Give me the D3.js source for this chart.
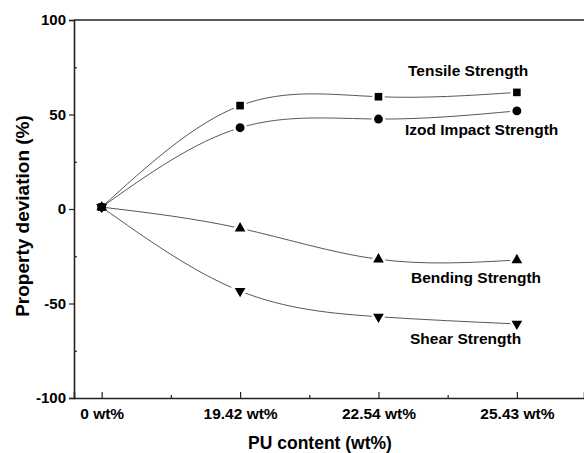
<!DOCTYPE html>
<html>
<head>
<meta charset="utf-8">
<script src="https://cdn.jsdelivr.net/npm/d3@7"></script>
<style>
  body { margin: 0; background: #fff; }
  svg text { font-family: Arial, "Liberation Sans", sans-serif; font-weight: bold; fill: #000; }
  .axis path, .axis line { stroke: #222; }
</style>
</head>
<body>
<div id="chart"></div>
<script>
(function () {
  "use strict";

  // PU content categories
  const categories = ["0 wt%", "19.42 wt%", "22.54 wt%", "25.43 wt%"];

  // property deviation (%) for each series
  const tensile = [1, 54.7, 59.4, 61.7];
  const izod = [1, 43, 47.6, 51.9];
  const bending = [1, -10.2, -26.6, -27];
  const shear = [1, -43.4, -57, -60.8];

  const yTicks = [-100, -50, 0, 50, 100];
  const yMinorTicks = [-75, -25, 25, 75];

  const series = [
    { name: "Tensile Strength", values: tensile, symbol: d3.symbolSquare, size: 58, rotate: 0, label: [408, 76] },
    { name: "Izod Impact Strength", values: izod, symbol: d3.symbolCircle, size: 62, rotate: 0, label: [405, 135] },
    { name: "Bending Strength", values: bending, symbol: d3.symbolTriangle, size: 50, rotate: 0, label: [411, 283] },
    { name: "Shear Strength", values: shear, symbol: d3.symbolTriangle, size: 50, rotate: 180, label: [410, 344] }
  ];

  const width = 584;
  const height = 453;
  const left = 74, right = 584, top = 20, bottom = 398;

  const svg = d3
    .select("#chart")
    .append("svg")
    .attr("width", width)
    .attr("height", height);

  const x = d3.scaleLinear().domain([-0.2, 3.485]).range([left, right]);
  const y = d3.scaleLinear().domain([-100, 100]).range([bottom, top]);

  // y axis, major ticks outward (plain hyphen for negatives)
  svg
    .append("g")
    .attr("class", "axis")
    .attr("transform", `translate(${left},0)`)
    .call(d3.axisLeft(y).tickValues(yTicks).tickSize(5).tickPadding(3).tickFormat((d) => String(d)))
    .call((g) => g.select(".domain").attr("stroke-width", 1.6))
    .call((g) => g.selectAll(".tick line").attr("stroke-width", 1.2))
    .call((g) => g.selectAll("text").style("font-size", "15px"));

  // y minor ticks
  svg
    .append("g")
    .attr("class", "axis")
    .attr("transform", `translate(${left},0)`)
    .call(d3.axisRight(y).tickValues(yMinorTicks).tickSize(3).tickFormat(""))
    .call((g) => g.select(".domain").remove())
    .call((g) => g.selectAll(".tick line").attr("stroke-width", 1.2));

  // x axis, ticks point up into the plot
  svg
    .append("g")
    .attr("class", "axis")
    .attr("transform", `translate(0,${bottom})`)
    .call(
      d3.axisBottom(x)
        .tickValues(d3.range(categories.length))
        .tickFormat((d) => categories[d])
        .tickSize(-6)
        .tickPadding(10)
    )
    .call((g) => g.select(".domain").attr("stroke-width", 1.6))
    .call((g) => g.selectAll(".tick line").attr("stroke-width", 1.2))
    .call((g) => g.selectAll("text").style("font-size", "15.5px"));

  // x minor ticks
  svg
    .append("g")
    .attr("class", "axis")
    .attr("transform", `translate(0,${bottom})`)
    .call(d3.axisBottom(x).tickValues([0.5, 1.5, 2.5]).tickSize(-3).tickFormat(""))
    .call((g) => g.select(".domain").remove())
    .call((g) => g.selectAll(".tick line").attr("stroke-width", 1.2));

  // top frame line
  svg
    .append("line")
    .attr("x1", left)
    .attr("x2", right)
    .attr("y1", top)
    .attr("y2", top)
    .attr("stroke", "#222")
    .attr("stroke-width", 1.6);

  // axis titles
  svg
    .append("text")
    .attr("x", 320)
    .attr("y", 449)
    .attr("text-anchor", "middle")
    .style("font-size", "17.5px")
    .text("PU content (wt%)");

  svg
    .append("text")
    .attr("transform", "translate(29,216) rotate(-90)")
    .attr("text-anchor", "middle")
    .style("font-size", "19px")
    .text("Property deviation (%)");

  const line = d3
    .line()
    .x((d, i) => x(i))
    .y((d) => y(d))
    .curve(d3.curveNatural);

  // curves
  svg
    .append("g")
    .selectAll("path")
    .data(series)
    .join("path")
    .attr("d", (d) => line(d.values))
    .attr("fill", "none")
    .attr("stroke", "#444")
    .attr("stroke-width", 0.9);

  // markers, with a white halo that leaves a small gap in the line
  series.forEach((s) => {
    svg
      .append("g")
      .selectAll("path")
      .data(s.values)
      .join("path")
      .attr("d", d3.symbol().type(s.symbol).size(s.size))
      .attr("transform", (d, i) => `translate(${x(i)},${y(d)}) rotate(${s.rotate})`)
      .attr("fill", "#000")
      .attr("stroke", (d, i) => (i === 0 ? "none" : "#fff"))
      .attr("stroke-width", 5)
      .style("paint-order", "stroke");
  });

  // series labels
  svg
    .append("g")
    .selectAll("text")
    .data(series)
    .join("text")
    .attr("x", (d) => d.label[0])
    .attr("y", (d) => d.label[1])
    .style("font-size", "15.5px")
    .text((d) => d.name);
})();
</script>
</body>
</html>
